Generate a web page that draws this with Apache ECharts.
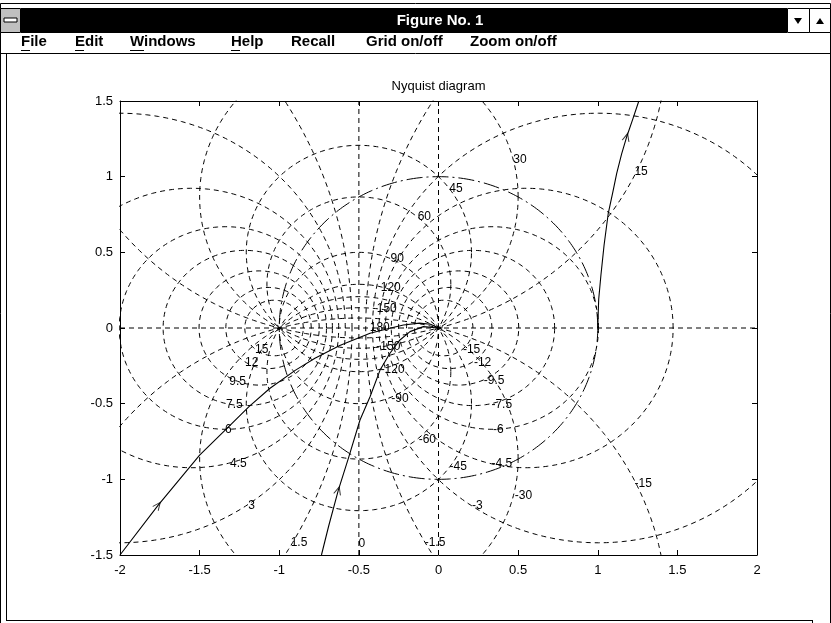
<!DOCTYPE html>
<html><head><meta charset="utf-8">
<script src="https://cdn.jsdelivr.net/npm/echarts@6/dist/echarts.min.js"></script>
<style>html,body{margin:0;padding:0;background:#fff}#c{width:831px;height:623px}</style>
</head><body><div id="c"></div>
<script>
// ---- data ----
const xTicks = [-2, -1.5, -1, -0.5, 0, 0.5, 1, 1.5, 2];
const yTicks = [-1.5, -1, -0.5, 0, 0.5, 1, 1.5];
// closed-loop magnitude contours (dB)
const mCirclesDb = [15, 12, 9.5, 7.5, 6, 4.5, 3, 1.5, -1.5, -3, -4.5, -6, -7.5, -9.5, -12, -15];
// closed-loop phase contours (deg); the circle for phi also carries phi-180
const phaseCirclesDeg = [15, 30, 45, 60, 90, -15, -30, -45, -60];
// magnitude labels [x, y, text]
const mLabels = [
  [-1.11, -0.141, '15'], [-1.173, -0.227, '12'], [-1.261, -0.355, '9.5'], [-1.282, -0.504, '7.5'],
  [-1.32, -0.674, '6'], [-1.257, -0.899, '4.5'], [-1.173, -1.174, '3'], [-0.876, -1.419, '1.5'],
  [-0.482, -1.428, '0'], [-0.022, -1.419, '-1.5'], [0.244, -1.174, '-3'], [0.397, -0.899, '-4.5'],
  [0.376, -0.670, '-6'], [0.397, -0.504, '-7.5'], [0.349, -0.350, '-9.5'], [0.277, -0.227, '-12'],
  [0.208, -0.141, '-15']
];
// phase labels [x, y, text]
const phaseLabels = [
  [1.272, 1.03, '15'], [0.512, 1.11, '30'], [0.110, 0.918, '45'], [-0.089, 0.736, '60'],
  [-0.259, 0.46, '90'], [-0.30, 0.269, '120'], [-0.325, 0.126, '150'], [-0.369, 0.0, '180'],
  [-0.315, -0.123, '-150'], [-0.288, -0.273, '-120'], [-0.242, -0.465, '-90'], [-0.070, -0.736, '-60'],
  [0.124, -0.917, '-45'], [0.533, -1.108, '-30'], [1.286, -1.031, '-15']
];
// Nyquist curves
const curveA = [[-2.0, -1.5], [-1.76, -1.17], [-1.5, -0.84], [-1.33, -0.665], [-1.19, -0.52], [-1.06, -0.40],
  [-0.90, -0.28], [-0.776, -0.2], [-0.62, -0.115], [-0.43, -0.035], [-0.3, 0.0], [-0.22, 0.02],
  [-0.12, 0.032], [-0.05, 0.025], [0, 0]];
const curveB = [[-0.735, -1.5], [-0.69, -1.31], [-0.629, -1.071], [-0.566, -0.861], [-0.493, -0.608],
  [-0.43, -0.454], [-0.367, -0.278], [-0.305, -0.167], [-0.242, -0.079], [-0.179, -0.024],
  [-0.095, 0.009], [0, 0]];
const curveC = [[1.0, 0], [1.003, 0.1], [1.006, 0.19], [1.02, 0.35], [1.04, 0.55], [1.066, 0.758],
  [1.095, 0.9], [1.119, 1.022], [1.15, 1.15], [1.182, 1.264], [1.22, 1.38], [1.258, 1.5]];
// arrow heads [x, y, rotation]
const arrows = [[-1.76, -1.17, -38], [-0.629, -1.071, -16], [1.182, 1.264, -15]];
const menuItems = ['File', 'Edit', 'Windows', 'Help', 'Recall', 'Grid on/off', 'Zoom on/off'];
const menuX = [21, 75, 130, 231, 291, 366, 470];

// ---- geometry helpers (contour shapes) ----
function circlePts(cx, cy, r) {
  const pts = [];
  for (let i = 0; i <= 720; i++) {
    const t = i * Math.PI / 360;
    pts.push([cx + r * Math.cos(t), cy + r * Math.sin(t)]);
  }
  return pts;
}
function mCircle(db) {
  const M = Math.pow(10, db / 20), M2 = M * M;
  return circlePts(-M2 / (M2 - 1), 0, M / Math.abs(M2 - 1));
}
function phaseCircle(deg) {
  const p = deg * Math.PI / 180;
  return circlePts(-0.5, 1 / (2 * Math.tan(p)), Math.abs(1 / (2 * Math.sin(p))));
}

const FONT = 'Liberation Sans, Arial, sans-serif';
const gridStyle = { color: '#000', width: 1, type: [5, 4] };
const series = [];
mCirclesDb.forEach(db => series.push({ type: 'line', data: mCircle(db), symbol: 'none', silent: true,
  lineStyle: gridStyle, z: 1, animation: false }));
phaseCirclesDeg.forEach(d => series.push({ type: 'line', data: phaseCircle(d), symbol: 'none', silent: true,
  lineStyle: gridStyle, z: 1, animation: false }));
// 0 dB line, 180 deg line, imaginary axis
[[[-0.5, -1.5], [-0.5, 1.5]], [[-2, 0], [2, 0]], [[0, -1.5], [0, 1.5]]].forEach(d =>
  series.push({ type: 'line', data: d, symbol: 'none', lineStyle: gridStyle, z: 1, animation: false }));
// unit circle
series.push({ type: 'line', data: circlePts(0, 0, 1), symbol: 'none', z: 2, animation: false,
  lineStyle: { color: '#000', width: 1, type: [16, 4, 2, 4] } });
[curveA, curveB, curveC].forEach(c => series.push({ type: 'line', data: c, symbol: 'none', z: 3,
  animation: false, lineStyle: { color: '#000', width: 1.1 } }));
series.push({ type: 'scatter', z: 4, animation: false, silent: true,
  data: arrows.map(a => ({ value: [a[0], a[1]], symbolRotate: a[2] })),
  symbol: 'path://M0,10 L5,0 L10,10 L8.6,10 L5,2.6 L1.4,10 Z', symbolSize: [8, 9],
  itemStyle: { color: '#000' } });
series.push({ type: 'scatter', z: 5, animation: false, silent: true,
  data: mLabels.concat(phaseLabels).map(l => ({ value: [l[0], l[1]], name: l[2] })),
  symbol: 'circle', symbolSize: 2, itemStyle: { color: 'rgba(0,0,0,0)' },
  labelLayout: { hideOverlap: false },
  label: { show: true, position: 'inside', formatter: p => p.name, color: '#000', fontSize: 12,
    fontFamily: FONT, textBorderWidth: 0, textBorderColor: 'transparent', opacity: 1 } });

function xAx(pos, lab) {
  return { type: 'value', min: -2, max: 2, interval: 0.5, position: pos, gridIndex: 0,
    axisLine: { onZero: false, lineStyle: { color: '#000', width: 1 } },
    axisTick: { inside: true, length: 5, lineStyle: { color: '#000' } },
    axisLabel: { show: lab, color: '#000', fontSize: 13, fontFamily: FONT, margin: 9, showMinLabel: true, showMaxLabel: true },
    splitLine: { show: false } };
}
function yAx(pos, lab) {
  return { type: 'value', min: -1.5, max: 1.5, interval: 0.5, position: pos, gridIndex: 0,
    axisLine: { onZero: false, lineStyle: { color: '#000', width: 1 } },
    axisTick: { inside: true, length: 5, lineStyle: { color: '#000' } },
    axisLabel: { show: lab, color: '#000', fontSize: 13, fontFamily: FONT, margin: 7, showMinLabel: true, showMaxLabel: true },
    splitLine: { show: false } };
}

const chrome = [];
chrome.push({ type: 'rect', shape: { x: 0.5, y: 3.5, width: 830, height: 640 }, style: { fill: 'none', stroke: '#000', lineWidth: 1 }, silent: true });
chrome.push({ type: 'rect', shape: { x: 21, y: 8, width: 766, height: 25 }, style: { fill: '#000' }, silent: true });
chrome.push({ type: 'rect', shape: { x: 0.5, y: 8.5, width: 20, height: 24 }, style: { fill: '#c0c0c0', stroke: '#000' }, silent: true });
chrome.push({ type: 'rect', shape: { x: 4, y: 18, width: 13, height: 4 }, style: { fill: '#fff', stroke: '#000', lineWidth: 1 }, silent: true });
chrome.push({ type: 'rect', shape: { x: 787.5, y: 8.5, width: 22, height: 24 }, style: { fill: '#fff', stroke: '#000' }, silent: true });
chrome.push({ type: 'rect', shape: { x: 809.5, y: 8.5, width: 21, height: 24 }, style: { fill: '#fff', stroke: '#000' }, silent: true });
chrome.push({ type: 'polygon', shape: { points: [[794, 18], [802, 18], [798, 24]] }, style: { fill: '#000' }, silent: true });
chrome.push({ type: 'polygon', shape: { points: [[816, 24], [824, 24], [820, 18]] }, style: { fill: '#000' }, silent: true });
chrome.push({ type: 'text', x: 440, y: 21, style: { text: 'Figure No. 1', fill: '#fff', font: 'bold 15px "Liberation Sans Narrow", "Liberation Sans", sans-serif', textAlign: 'center', textVerticalAlign: 'middle' }, silent: true });
menuItems.forEach((m, i) => {
  chrome.push({ type: 'text', x: menuX[i], y: 42, style: { text: m, fill: '#000', font: 'bold 15px "Liberation Sans Narrow", "Liberation Sans", sans-serif', textAlign: 'left', textVerticalAlign: 'middle' }, silent: true });
});
[[21, 30], [75, 84], [130, 144], [231, 240]].forEach(u =>
  chrome.push({ type: 'line', shape: { x1: u[0], y1: 50.5, x2: u[1], y2: 50.5 }, style: { stroke: '#000', lineWidth: 1 }, silent: true }));
chrome.push({ type: 'line', shape: { x1: 0, y1: 53.5, x2: 831, y2: 53.5 }, style: { stroke: '#000', lineWidth: 1 }, silent: true });
chrome.push({ type: 'line', shape: { x1: 6.5, y1: 53, x2: 6.5, y2: 621 }, style: { stroke: '#000', lineWidth: 1 }, silent: true });
chrome.push({ type: 'line', shape: { x1: 6, y1: 620.5, x2: 812, y2: 620.5 }, style: { stroke: '#000', lineWidth: 1 }, silent: true });
chrome.push({ type: 'line', shape: { x1: 812.5, y1: 620, x2: 812.5, y2: 623 }, style: { stroke: '#000', lineWidth: 1 }, silent: true });
chrome.push({ type: 'text', x: 438.5, y: 86, style: { text: 'Nyquist diagram', fill: '#000', font: '13px ' + FONT, textAlign: 'center', textVerticalAlign: 'middle' }, silent: true });

const chart = echarts.init(document.getElementById('c'), null, { renderer: 'canvas' });
chart.setOption({
  animation: false,
  backgroundColor: '#fff',
  grid: { left: 120, right: 74, top: 101, bottom: 68, containLabel: false },
  xAxis: [xAx('bottom', true), xAx('top', false)],
  yAxis: [yAx('left', true), yAx('right', false)],
  graphic: chrome,
  series: series
});
</script></body></html>
